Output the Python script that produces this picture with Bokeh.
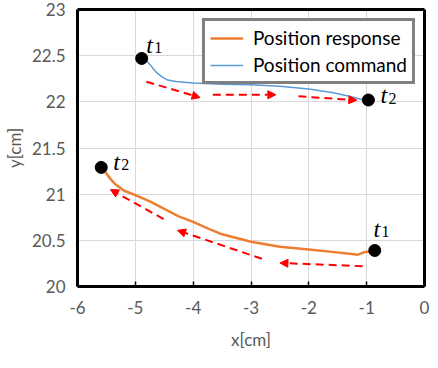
from bokeh.plotting import figure
from bokeh.models import Range1d, FixedTicker, Arrow, NormalHead, Legend, LegendItem, ColumnDataSource, LinearAxis
from bokeh.embed import file_html
from bokeh.resources import INLINE
from bokeh.core.properties import value

# ---- data ----
cmd_x = [-4.85, -4.80, -4.74, -4.68, -4.62, -4.54, -4.46, -4.30, -4.00, -3.50, -3.00, -2.50, -2.00, -1.60, -1.30, -1.05]
cmd_y = [22.44, 22.44, 22.40, 22.35, 22.31, 22.27, 22.24, 22.22, 22.205, 22.19, 22.185, 22.17, 22.14, 22.10, 22.06, 22.02]

resp_x = [-5.53, -5.45, -5.35, -5.20, -5.00, -4.74, -4.50, -4.25, -4.00, -3.75, -3.50, -3.00, -2.50, -2.00, -1.60, -1.30, -1.15, -1.05, -0.95]
resp_y = [21.25, 21.18, 21.11, 21.04, 20.99, 20.92, 20.84, 20.76, 20.70, 20.63, 20.565, 20.485, 20.43, 20.40, 20.375, 20.355, 20.345, 20.37, 20.38]

dot_x = [-4.89, -0.97, -5.59, -0.86]
dot_y = [22.47, 22.02, 21.29, 20.39]

lab_x = [-4.81, -0.76, -5.38, -0.88]
lab_y = [22.62, 22.07, 21.35, 20.625]
lab_sub = ["1", "2", "2", "1"]

arrow_x0 = [-4.81, -3.66, -2.18, -1.07, -2.81, -4.51]
arrow_y0 = [22.218, 22.077, 22.06, 20.22, 20.30, 20.73]
arrow_x1 = [-3.88, -2.57, -1.17, -2.50, -4.27, -5.43]
arrow_y1 = [22.046, 22.077, 22.017, 20.255, 20.608, 21.05]

x_ticks = [-6, -5, -4, -3, -2, -1, 0]
y_ticks = [20, 20.5, 21, 21.5, 22, 22.5, 23]
x_tick_labels = ["-6", "-5", "-4", "-3", "-2", "-1", "0"]
y_tick_labels = ["20", "20.5", "21", "21.5", "22", "22.5", "23"]

ORANGE = "#ED7D31"
BLUE = "#5B9BD5"
GRAY = "#595959"
FONT = "Lato"

p = figure(width=430, height=352, output_backend="svg", toolbar_location=None,
           x_range=Range1d(-6, 0), y_range=Range1d(20, 23),
           min_border_left=75, min_border_right=6, min_border_top=9, min_border_bottom=66)

p.outline_line_color = None

for ax, ticks, labels in ((p.xaxis[0], x_ticks, x_tick_labels), (p.yaxis[0], y_ticks, y_tick_labels)):
    ax.ticker = FixedTicker(ticks=ticks)
    ax.major_label_overrides = {t: l for t, l in zip(ticks, labels)}
    ax.axis_line_color = "black"
    ax.axis_line_width = 3
    ax.minor_tick_line_color = None
    ax.major_tick_in = 5
    ax.major_tick_out = 0
    ax.major_tick_line_color = "black"
    ax.major_tick_line_width = 1.5
    ax.major_label_text_font = FONT
    ax.major_label_text_font_size = "17px"
    ax.major_label_text_color = GRAY
    ax.axis_label_text_font = FONT
    ax.axis_label_text_font_size = "17px"
    ax.axis_label_text_color = GRAY
    ax.axis_label_text_font_style = "normal"

p.yaxis.major_tick_line_color = None
p.xaxis.major_label_standoff = 14
p.yaxis.major_label_standoff = 12
p.xaxis.axis_label = "x[cm]"
p.yaxis.axis_label = "y[cm]"
p.xaxis.axis_label_standoff = 12
p.yaxis.axis_label_standoff = 4

# frame top / right borders
for side in ("right", "above"):
    fa = LinearAxis(ticker=FixedTicker(ticks=[]), axis_line_color="black", axis_line_width=3,
                    major_tick_line_color=None, minor_tick_line_color=None,
                    major_label_text_font_size="0px")
    p.add_layout(fa, side)

p.grid.grid_line_color = "#d9d9d9"
p.grid.grid_line_width = 1

# arrows
for x0, y0, x1, y1 in zip(arrow_x0, arrow_y0, arrow_x1, arrow_y1):
    p.add_layout(Arrow(x_start=x0, y_start=y0, x_end=x1, y_end=y1,
                       line_color="red", line_width=2, line_dash="8 5",
                       end=NormalHead(size=8, fill_color="red", line_color="red", line_width=1)))

r_resp = p.line(resp_x, resp_y, line_color=ORANGE, line_width=2.5)
r_cmd = p.line(cmd_x, cmd_y, line_color=BLUE, line_width=1.5)

p.scatter(dot_x, dot_y, size=12, fill_color="black", line_color="black")

src = ColumnDataSource(dict(x=lab_x, y=lab_y, s=lab_sub))
p.text(x="x", y="y", text=value("t"), source=src, text_font=value("Liberation Serif"),
       text_font_style="italic", text_font_size="24px", text_color="black",
       text_baseline="alphabetic", text_align="left")
p.text(x="x", y="y", text="s", source=src, text_font=value("Liberation Serif"),
       text_font_size="16px", text_color="black", x_offset=8, y_offset=3,
       text_baseline="alphabetic", text_align="left")

legend = Legend(items=[LegendItem(label="Position response", renderers=[r_resp]),
                       LegendItem(label="Position command", renderers=[r_cmd])],
                location="top_right")
legend.border_line_color = "black"
legend.border_line_width = 3
legend.label_text_font = FONT
legend.label_text_font_size = "19px"
legend.label_text_color = "black"
legend.glyph_width = 33
legend.glyph_height = 18
legend.label_height = 18
legend.label_standoff = 10
legend.spacing = 4
legend.padding = 5
legend.margin = 9
legend.background_fill_color = "white"
legend.background_fill_alpha = 1
p.add_layout(legend)

open("out.html", "w").write(file_html(p, INLINE))
